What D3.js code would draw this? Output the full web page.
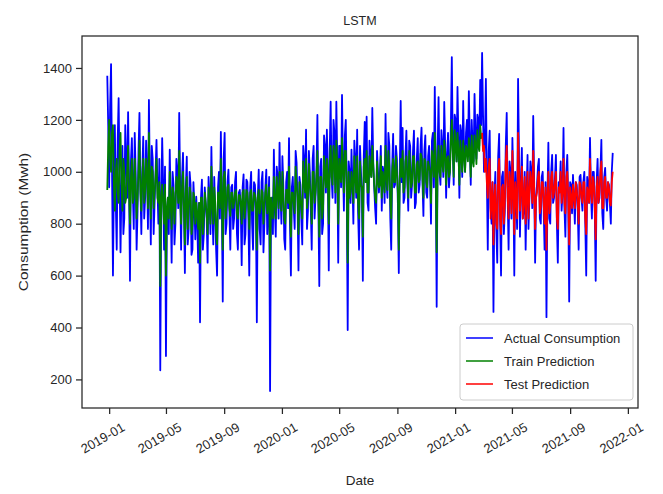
<!DOCTYPE html>
<html>
<head>
<meta charset="utf-8">
<script src="https://cdn.jsdelivr.net/npm/d3@7"></script>
<style>
  html, body { margin: 0; padding: 0; background: #fff; }
  svg { display: block; font-family: "Liberation Sans", Arial, sans-serif; }
</style>
</head>
<body>
<svg id="chart" width="663" height="494"></svg>
<script>
// Consumption sampled every 2 days, starting at seriesStart
const seriesStart = "2018-12-28";
const stepDays = 2;

// Actual consumption (MWh)
const actualConsumption = [
  1370,1180, 940,1250, 1415,1020, 600,960, 1180,880,
  700,1120, 1284,980, 690,940, 1100,760, 820,1180,
  1050,900, 1230,960, 580,1040, 1130,920, 780,1150,
  1000,700, 850,1080, 1227,940, 760,1000, 1135,820,
  900,1120, 1000,780, 1277,960, 720,1100, 1050,760,
  880,1000, 1123,940, 800,1050, 235,880, 1130,960,
  700,1020, 290,820, 900,760, 1085,880, 650,1000,
  950,720, 800,1050, 1000,860, 1227,940, 700,980,
  1073,860, 610,940, 1058,720, 780,1000, 950,680,
  700,960, 880,740, 904,820, 650,880, 420,900,
  970,700, 760,940, 880,820, 650,980, 900,760,
  1096,860, 720,980, 850,700, 600,940, 1000,820,
  1154,880, 500,1050, 1150,760, 800,960, 1008,850,
  700,940, 950,780, 820,960, 1000,760, 700,920,
  930,860, 640,940, 990,720, 760,970, 960,840,
  600,940, 1000,800, 700,960, 950,860, 420,900,
  1008,780, 720,960, 1000,690, 800,940, 1008,760,
  850,980, 155,880, 900,760, 1085,860, 750,1020,
  980,820, 1112,900, 800,1060, 950,740, 700,960,
  1000,860, 1130,800, 600,940, 980,860, 780,1080,
  1035,880, 620,980, 950,820, 720,1100, 1050,900,
  1162,780, 850,1080, 1000,860, 700,1050, 1100,820,
  900,1000, 1219,880, 560,1020, 1050,760, 800,1140,
  1100,920, 1162,1000, 620,1080, 1270,980, 900,1200,
  1150,880, 1270,1050, 650,1100, 1100,940, 1296,1020,
  850,1140, 1200,920, 390,1040, 1000,880, 1085,960,
  800,1120, 1050,900, 1162,840, 700,1100, 1000,920,
  580,1060, 1192,960, 1212,880, 850,1120, 1050,980,
  1246,1040, 942,860, 800,1080, 1000,920, 988,1100,
  850,1020, 1000,880, 1223,960, 900,1150, 1100,820,
  700,1020, 1146,940, 950,1100, 1050,880, 610,1000,
  1273,960, 1169,880, 900,1060, 1158,960, 850,1120,
  1100,900, 950,1080, 1158,860, 880,1050, 1130,920,
  950,1100, 1170,960, 830,1080, 1140,920, 900,1060,
  1100,980, 800,1120, 1150,940, 1327,1020, 480,1080,
  1288,1000, 950,1160, 1100,980, 1269,1100, 900,1060,
  1150,940, 1000,1180, 1442,1100, 950,1220, 1200,1040,
  1327,1120, 900,1180, 1150,980, 1273,1080, 1000,1150,
  1200,1060, 1311,1120, 950,1200, 1100,1040, 1300,1140,
  1050,1220, 1200,1100, 1354,1180, 1458,1220, 1000,1120,
  1358,980, 700,1080, 1158,860, 800,960, 460,900,
  1000,780, 650,1060, 1146,820, 600,980, 1000,760,
  850,1100, 1227,900, 700,1040, 1000,820, 1131,960,
  600,1000, 900,780, 1358,1060, 750,960, 1092,820,
  850,1000, 700,920, 1065,780, 900,1040, 1000,860,
  1215,960, 650,900, 950,1020, 1050,820, 800,980,
  1000,860, 700,960, 440,900, 1112,820, 800,1000,
  1065,880, 900,980, 1065,800, 650,960, 950,1040,
  850,920, 1169,860, 750,1000, 1065,880, 500,960,
  950,840, 988,900, 800,960, 950,860, 700,980,
  988,900, 850,960, 1000,800, 600,980, 950,880,
  1131,920, 820,1000, 1000,860, 580,960, 1050,880,
  900,1000, 1123,840, 780,980, 1015,900, 850,960,
  950,880, 800,1000,
  1073
];

// LSTM prediction over the training window
const trainPrediction = [
  930,1100, 1200,1050, 1000,1150, 1180,950, 850,1000,
  1050,920, 880,1080, 1150,950, 850,1050, 1000,880,
  900,1000, 1100,920, 800,980, 1050,880, 900,1050,
  950,820, 900,1000, 1120,920, 850,980, 1050,880,
  930,1050, 980,860, 1150,940, 820,1020, 1000,860,
  920,980, 1050,900, 880,960, 560,900, 950,880,
  800,950, 600,860, 900,820, 1000,880, 780,940,
  920,800, 870,980, 950,880, 1080,900, 800,940,
  1000,860, 720,920, 980,780, 850,940, 920,760,
  800,920, 900,800, 880,840, 780,880, 650,900,
  900,760, 820,920, 880,840, 760,940, 880,800,
  1020,880, 800,940, 880,760, 720,920, 920,860,
  1050,900, 700,980, 1000,820, 870,940, 950,860,
  830,920, 920,860, 880,920, 930,840, 820,910,
  910,880, 800,920, 930,820, 860,930, 920,870,
  780,920, 930,850, 850,920, 910,880, 700,900,
  930,840, 860,930, 920,800, 870,920, 950,840,
  880,940, 620,900, 850,820, 980,880, 820,980,
  920,860, 1000,900, 850,1000, 900,820, 800,930,
  930,880, 1020,860, 750,920, 920,880, 840,1020,
  950,900, 760,960, 900,860, 820,1040, 960,920,
  1050,860, 900,1030, 950,900, 800,1000, 1000,880,
  920,980, 1080,900, 750,980, 980,820, 860,1060,
  1000,940, 1050,980, 800,1040, 1100,980, 950,1100,
  1050,920, 1120,1020, 800,1050, 1000,960, 1130,1000,
  920,1080, 1080,940, 650,1000, 900,920, 1000,960,
  880,1060, 980,920, 1060,880, 820,1040, 950,940,
  750,1020, 1050,960, 1080,920, 920,1060, 1000,980,
  1100,1020, 950,900, 880,1040, 960,940, 950,1060,
  900,1000, 960,920, 1100,980, 930,1080, 1020,880,
  820,1000, 1050,960, 960,1060, 1000,920, 700,980,
  1050,980, 1080,920, 940,1040, 1060,980, 900,1080,
  1020,940, 960,1060, 1060,920, 920,1030, 1040,960,
  970,1070, 1060,980, 900,1050, 1040,960, 940,1040,
  1020,1000, 880,1080, 1050,980, 1150,1040, 690,1020,
  1100,1000, 980,1100, 1030,1000, 1120,1080, 950,1050,
  1060,980, 1000,1120, 1200,1080, 980,1160, 1100,1040,
  1150,1080, 950,1120, 1060,1000, 1120,1060, 1000,1100,
  1080,1040, 1130,1080, 980,1140, 1040,1020, 1140,1100,
  1030,1160, 1100,1080, 1180,1130,
  1150
];

// LSTM prediction over the test window, starting at sample testStartIndex
const testStartIndex = 396;
const testPrediction = [
  1150,1080, 1100,1000, 1050,960, 900,1020, 1050,820,
  880,960, 720,900, 950,800, 780,1000, 1050,820,
  760,940, 950,800, 880,1040, 1100,900, 820,1000,
  950,840, 1080,920, 760,960, 900,820, 1150,1000,
  850,940, 1020,820, 900,980, 800,900, 1000,820,
  920,1000, 960,880, 1080,940, 780,900, 920,980,
  1000,840, 860,960, 960,880, 800,940, 700,900,
  1000,840, 870,980, 1000,900, 920,960, 1000,820,
  780,940, 920,1000, 880,920, 1050,880, 840,980,
  1000,900, 720,940, 900,860, 950,900, 860,960,
  930,880, 800,960, 950,900, 880,960, 960,820,
  760,940, 920,880, 1050,920, 880,980, 960,860,
  740,940, 980,880, 920,1000, 1040,860, 860,960,
  980,900, 900,960, 940,880, 870,960,
  1000
];

const yTicks = [200, 400, 600, 800, 1000, 1200, 1400];
const chartTitle = "LSTM";
const xLabel = "Date";
const yLabel = "Consumption (Mwh)";
const legendNames = ["Actual Consumption", "Train Prediction", "Test Prediction"];
const seriesColors = ["#0000ff", "#008000", "#ff0000"];

const parse = d3.utcParse("%Y-%m-%d");
const t0 = parse(seriesStart);
const dateAt = i => d3.utcDay.offset(t0, i * stepDays);

const actual = actualConsumption.map((v, i) => ({ date: dateAt(i), value: v }));
const train = trainPrediction.map((v, i) => ({ date: dateAt(i), value: v }));
const test = testPrediction.map((v, i) => ({ date: dateAt(testStartIndex + i), value: v }));

const plot = { left: 82, top: 36, right: 638, bottom: 408 };
const ink = "#262626";
const font = "'Liberation Sans', Arial, sans-serif";

// Pad the data extent by 5% on each side
function padded(extent) {
  const span = extent[1] - extent[0];
  return [extent[0] - span * 0.05, extent[1] + span * 0.05];
}
const xExt = padded(d3.extent(actual, d => +d.date));
const yExt = padded(d3.extent(actual.concat(train, test), d => d.value));

const x = d3.scaleUtc().domain([new Date(xExt[0]), new Date(xExt[1])]).range([plot.left, plot.right]);
const y = d3.scaleLinear().domain(yExt).range([plot.bottom, plot.top]);

const svg = d3.select("#chart");

// Series lines
const line = d3.line().x(d => x(d.date)).y(d => y(d.value));
[actual, train, test].forEach((data, k) => {
  svg.append("path")
    .datum(data)
    .attr("fill", "none")
    .attr("stroke", seriesColors[k])
    .attr("stroke-width", 1.8)
    .attr("stroke-linejoin", "round")
    .attr("d", line);
});

// Frame
svg.append("rect")
  .attr("x", plot.left).attr("y", plot.top)
  .attr("width", plot.right - plot.left).attr("height", plot.bottom - plot.top)
  .attr("fill", "none").attr("stroke", ink).attr("stroke-width", 1.25);

// Y axis
const yAxis = svg.append("g")
  .attr("transform", `translate(${plot.left},0)`)
  .call(d3.axisLeft(y).tickValues(yTicks).tickSize(6).tickPadding(4).tickFormat(d3.format("d")));
yAxis.select(".domain").remove();
yAxis.selectAll(".tick line").attr("stroke", ink).attr("stroke-width", 1.25);
yAxis.selectAll(".tick text")
  .attr("fill", ink)
  .style("font-size", "13px")
  .style("font-family", font);

// X axis
const xTickDates = d3.utcMonth.every(4).range(parse("2019-01-01"), parse("2022-01-02"));
const xAxis = svg.append("g")
  .attr("transform", `translate(0,${plot.bottom})`)
  .call(d3.axisBottom(x).tickValues(xTickDates).tickSize(6).tickFormat(d3.utcFormat("%Y-%m")));
xAxis.select(".domain").remove();
xAxis.selectAll(".tick line").attr("stroke", ink).attr("stroke-width", 1.25);
xAxis.selectAll(".tick text")
  .attr("fill", ink)
  .attr("text-anchor", "end")
  .attr("dy", null)
  .attr("y", null)
  .attr("transform", "translate(16,22) rotate(-30)")
  .style("font-size", "13px")
  .style("font-family", font);

// Title and axis labels
svg.append("text")
  .attr("x", (plot.left + plot.right) / 2).attr("y", 25)
  .attr("text-anchor", "middle").attr("fill", ink)
  .style("font-size", "12.5px")
  .text(chartTitle);

svg.append("text")
  .attr("x", (plot.left + plot.right) / 2).attr("y", 485)
  .attr("text-anchor", "middle").attr("fill", ink)
  .style("font-size", "13.5px")
  .text(xLabel);

svg.append("text")
  .attr("transform", `translate(28,${(plot.top + plot.bottom) / 2}) scale(0.88,1) rotate(-90)`)
  .attr("text-anchor", "middle").attr("fill", ink)
  .style("font-size", "15.5px")
  .text(yLabel);

// Legend
const legend = svg.append("g").attr("transform", "translate(460,324)");
legend.append("rect")
  .attr("width", 173).attr("height", 76).attr("rx", 3)
  .attr("fill", "#fff").attr("fill-opacity", 0.85)
  .attr("stroke", "#cccccc").attr("stroke-width", 1);
legendNames.forEach((name, k) => {
  const cy = 14 + k * 23;
  legend.append("line")
    .attr("x1", 6).attr("x2", 33).attr("y1", cy).attr("y2", cy)
    .attr("stroke", seriesColors[k]).attr("stroke-width", 1.5);
  legend.append("text")
    .attr("x", 44).attr("y", cy).attr("dy", "0.35em")
    .attr("fill", ink)
    .style("font-size", "13px")
    .text(name);
});
</script>
</body>
</html>
